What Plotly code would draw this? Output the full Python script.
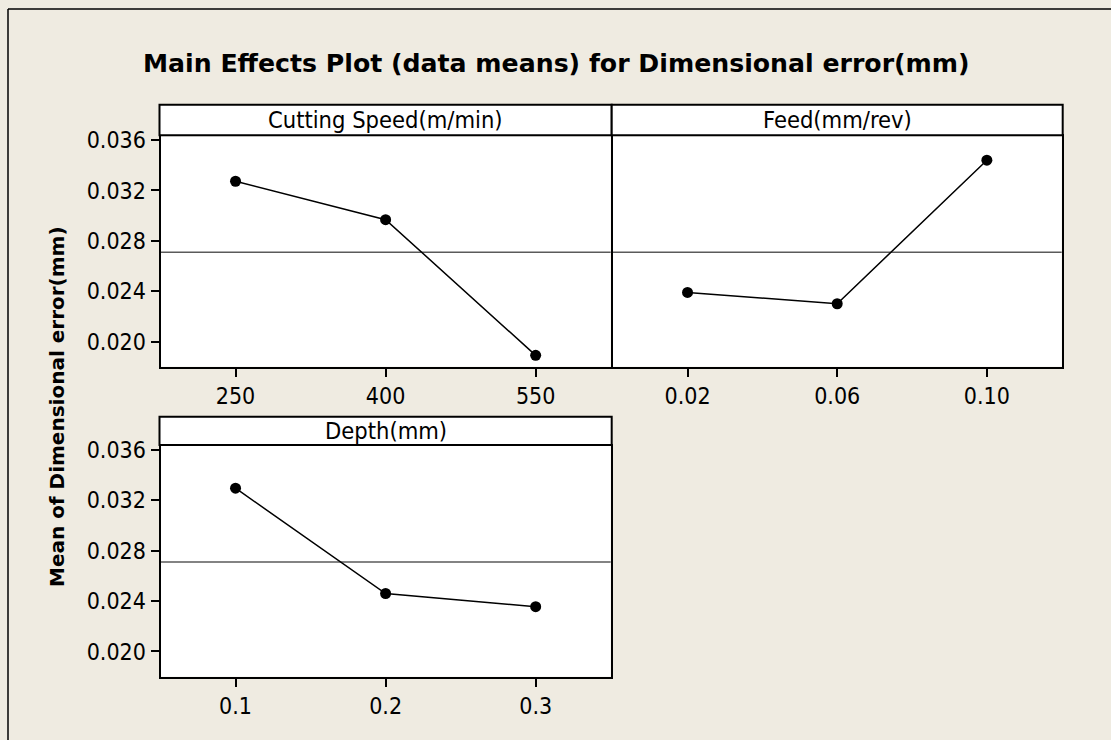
import plotly.graph_objects as go

# ---- data ----
speed_levels = [250, 400, 550]
speed_labels = ["250", "400", "550"]
speed_means = [0.03273, 0.02968, 0.01890]

feed_levels = [0.02, 0.06, 0.10]
feed_labels = ["0.02", "0.06", "0.10"]
feed_means = [0.02390, 0.02300, 0.03440]

depth_levels = [0.1, 0.2, 0.3]
depth_labels = ["0.1", "0.2", "0.3"]
depth_means = [0.03295, 0.02460, 0.02355]

grand_mean = 0.02710

y_ticks = [0.020, 0.024, 0.028, 0.032, 0.036]
y_ticklabels = ["0.020", "0.024", "0.028", "0.032", "0.036"]

panel_titles = ["Cutting Speed(m/min)", "Feed(mm/rev)", "Depth(mm)"]
main_title = "Main Effects Plot (data means) for Dimensional error(mm)"
y_title = "Mean of Dimensional error(mm)"

# ---- layout geometry (pixels) ----
W, H = 1111, 740
FONT = "DejaVu Sans"
CFONT = "DejaVu Sans Condensed, DejaVu Sans"
BG = "#EFEBE1"


def px(x):
    return x / W


def py(y):
    return 1 - y / H


panels = [
    dict(x0=160.5, x1=610.7, top=104.7, strip=136.3, bottom=366.7),
    dict(x0=612.7, x1=1061.7, top=104.7, strip=136.3, bottom=366.7),
    dict(x0=160.5, x1=610.7, top=416.7, strip=446.0, bottom=676.7),
]

series = [
    (speed_levels, speed_labels, speed_means),
    (feed_levels, feed_labels, feed_means),
    (depth_levels, depth_labels, depth_means),
]

fig = go.Figure()
shapes = []
annotations = []

for i, (p, (lv, lab, mv)) in enumerate(zip(panels, series)):
    n = "" if i == 0 else str(i + 1)
    fig.add_trace(go.Scatter(
        x=lv, y=mv, mode="lines+markers",
        line=dict(color="black", width=1.5),
        marker=dict(color="black", size=11),
        xaxis="x" + n, yaxis="y" + n, showlegend=False,
        hoverinfo="x+y",
    ))
    step = lv[1] - lv[0]
    xr = [lv[0] - step / 2, lv[-1] + step / 2]
    fig.layout["xaxis" + n] = dict(
        domain=[px(p["x0"]), px(p["x1"])], anchor="y" + n,
        range=xr, tickvals=lv, ticktext=lab,
        showline=True, mirror=True, linecolor="black", linewidth=2,
        ticks="outside", ticklen=8, tickwidth=1.5, tickcolor="black",
        showgrid=False, zeroline=False,
        tickfont=dict(family=CFONT, size=23, color="black"),
    )
    fig.layout["yaxis" + n] = dict(
        domain=[py(p["bottom"]), py(p["strip"])], anchor="x" + n,
        range=[0.0180, 0.0363], tickvals=y_ticks, ticktext=y_ticklabels,
        showline=True, mirror=True, linecolor="black", linewidth=2,
        ticks="outside" if i != 1 else "", ticklen=8, tickwidth=1.5,
        tickcolor="black", showticklabels=(i != 1),
        showgrid=False, zeroline=False,
        tickfont=dict(family=CFONT, size=23, color="black"),
    )
    # grand mean reference line
    shapes.append(dict(
        type="line", xref="x" + n + " domain", yref="y" + n,
        x0=0, x1=1, y0=grand_mean, y1=grand_mean,
        line=dict(color="#5a5a5a", width=1.5), layer="below",
    ))
    # strip
    shapes.append(dict(
        type="rect", xref="paper", yref="paper",
        x0=px(p["x0"] - 1), x1=px(p["x1"] + 1), y0=py(p["strip"] - 1), y1=py(p["top"]),
        fillcolor="white", line=dict(color="black", width=2),
    ))
    annotations.append(dict(
        text=panel_titles[i], xref="paper", yref="paper",
        x=(px(p["x0"]) + px(p["x1"])) / 2,
        y=(py(p["strip"]) + py(p["top"])) / 2,
        xanchor="center", yanchor="middle", showarrow=False,
        font=dict(family=CFONT, size=23.5, color="black"),
    ))

# outer frame (left and top edges)
shapes.append(dict(type="line", xref="paper", yref="paper",
                   x0=px(8), x1=px(8), y0=py(9), y1=py(745),
                   line=dict(color="black", width=1.5)))
shapes.append(dict(type="line", xref="paper", yref="paper",
                   x0=px(8), x1=px(1115), y0=py(9), y1=py(9),
                   line=dict(color="black", width=1.5)))

annotations.append(dict(
    text="<b>" + main_title + "</b>", xref="paper", yref="paper",
    x=px(556), y=py(63), xanchor="center", yanchor="middle", showarrow=False,
    font=dict(family=FONT, size=25.2, color="black"),
))
annotations.append(dict(
    text="<b>" + y_title + "</b>", xref="paper", yref="paper",
    x=px(57), y=py(407), xanchor="center", yanchor="middle", showarrow=False,
    textangle=-90, font=dict(family=FONT, size=20, color="black"),
))

fig.update_layout(
    width=W, height=H,
    margin=dict(l=0, r=0, t=0, b=0, autoexpand=False),
    paper_bgcolor=BG, plot_bgcolor="white",
    shapes=shapes, annotations=annotations,
    showlegend=False,
)

fig.write_html(
    "out.html",
    config={"displayModeBar": False},
    post_script=(
        "document.body.style.margin='0';"
        "var gd=document.getElementById('{plot_id}');"
        "gd.style.position='fixed';gd.style.left='0px';gd.style.top='0px';"
    ),
)
